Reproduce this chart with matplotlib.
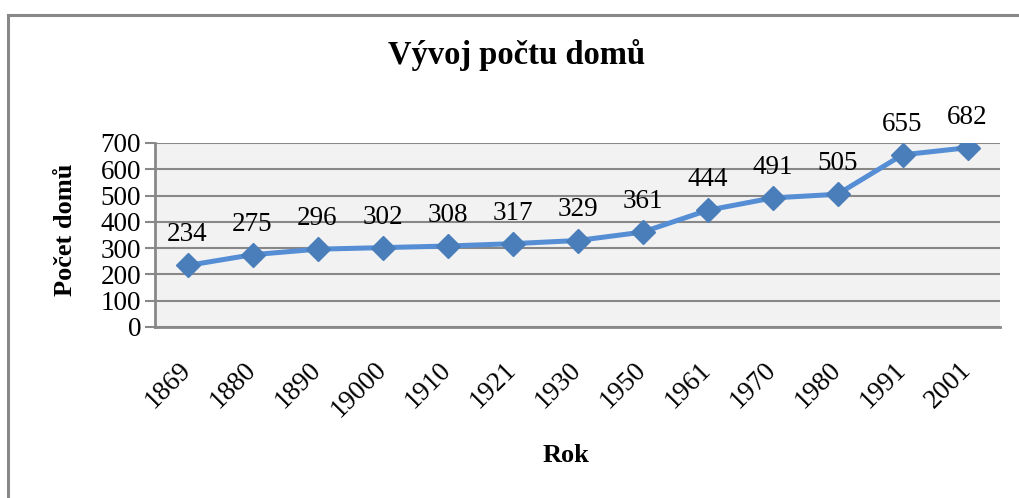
import matplotlib
matplotlib.use("Agg")
import matplotlib.pyplot as plt
import matplotlib.patches as patches

years = ["1869", "1880", "1890", "19000", "1910", "1921", "1930", "1950",
         "1961", "1970", "1980", "1991", "2001"]
houses = [234, 275, 296, 302, 308, 317, 329, 361, 444, 491, 505, 655, 682]

plt.rcParams["font.family"] = ["Liberation Serif", "DejaVu Serif"]

W, H = 1019, 498
fig = plt.figure(figsize=(W / 100, H / 100), dpi=100)

# chart frame (right and bottom edges are cut off in the original)
fig.patches.append(patches.Rectangle((7.5 / W, -0.1), 1.2, 1 - 15.5 / H + 0.1,
                                     transform=fig.transFigure, fill=False,
                                     edgecolor="#888888", linewidth=2.2))

ax = fig.add_axes([155 / W, (H - 327) / H, (1000 - 155) / W, (327 - 143) / H])
ax.set_facecolor("#F2F2F2")

xs = list(range(len(years)))
ax.plot(xs, houses, color="#558ED5", linewidth=3.6, marker="D", markersize=12.5,
        markerfacecolor="#4A7EBB", markeredgecolor="#4A7EBB", zorder=3)

for x, v in zip(xs, houses):
    ax.annotate(str(v), (x, v), xytext=(0, 13), textcoords="offset points",
                ha="center", va="bottom", fontsize=19.5, annotation_clip=False)

ax.set_xlim(-0.5, len(years) - 0.5)
ax.set_ylim(0, 700)
ax.set_yticks(range(0, 701, 100))
ax.grid(axis="y", color="#888888", linewidth=1.5)
ax.set_axisbelow(True)

for s in ["top", "right"]:
    ax.spines[s].set_visible(False)
for s in ["left", "bottom"]:
    ax.spines[s].set_color("#888888")
    ax.spines[s].set_linewidth(2)

ax.tick_params(axis="y", length=7, width=1.5, color="#888888", labelsize=19.5, pad=3)
ax.tick_params(axis="x", length=0, labelsize=19.5, pad=28)
ax.set_xticks(xs)
ax.set_xticklabels(years, rotation=45, ha="right", va="center", rotation_mode="anchor")

fig.text(517 / W, 1 - 55 / H, "Vývoj počtu domů", ha="center", va="center",
         fontsize=23.5, fontweight="bold")
fig.text(66 / W, 1 - 230 / H, "Počet domů", ha="center", va="center",
         rotation=90, fontsize=19, fontweight="bold")
fig.text(566 / W, 1 - 455 / H, "Rok", ha="center", va="center",
         fontsize=19, fontweight="bold")

fig.savefig("out.png", dpi=100)
